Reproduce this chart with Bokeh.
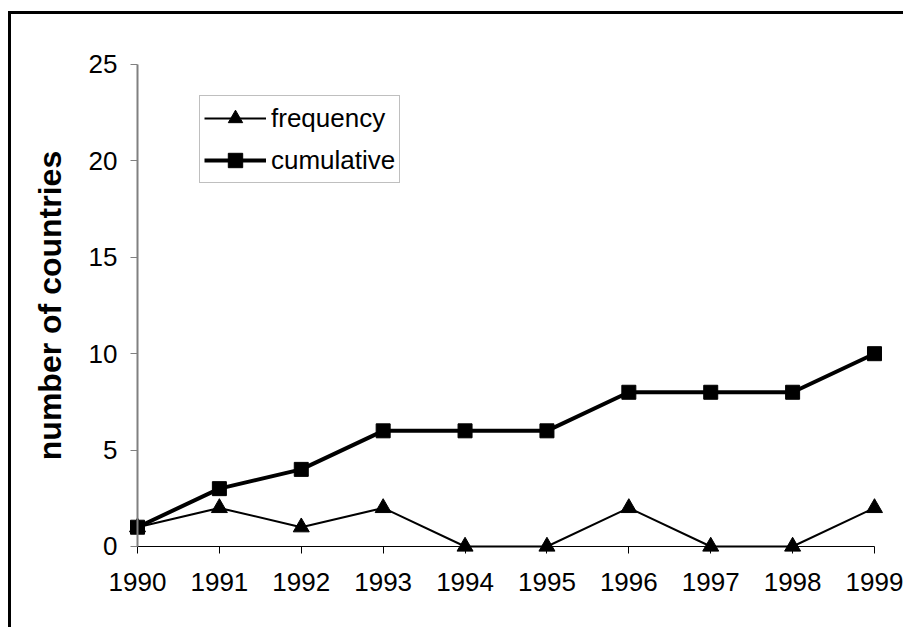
from bokeh.plotting import figure
from bokeh.models import (Range1d, LinearAxis, FixedTicker, Legend, LegendItem)
from bokeh.embed import file_html
from bokeh.resources import INLINE

# ---- data ----
years = [1990, 1991, 1992, 1993, 1994, 1995, 1996, 1997, 1998, 1999]
frequency = [1, 2, 1, 2, 0, 0, 2, 0, 0, 2]
cumulative = [1, 3, 4, 6, 6, 6, 8, 8, 8, 10]
y_ticks = [0, 5, 10, 15, 20, 25]
x_tick_labels = ["1990", "1991", "1992", "1993", "1994", "1995", "1996", "1997", "1998", "1999"]
y_tick_labels = ["0", "5", "10", "15", "20", "25"]
series_names = ["frequency", "cumulative"]
y_title = "number of countries"

FONT = "Liberation Sans"

# frame covers the whole canvas; axes are placed at fixed data locations
p = figure(width=895, height=616, output_backend="svg", toolbar_location=None,
           x_range=Range1d(1988.4613, 1999.3908), y_range=Range1d(-4.357, 27.593),
           x_axis_location=None, y_axis_location=None,
           min_border_left=0, min_border_right=0, min_border_top=0, min_border_bottom=0)
p.styles = {"border-top": "3px solid black", "border-left": "3px solid black",
            "margin-top": "11px", "margin-left": "8px"}
p.outline_line_color = None
p.xgrid.visible = False
p.ygrid.visible = False
p.background_fill_color = "white"
p.border_fill_color = "white"

xaxis = LinearAxis(fixed_location=0, bounds=(1990, 1999),
                   ticker=FixedTicker(ticks=years),
                   major_label_overrides={y: s for y, s in zip(years, x_tick_labels)})
xaxis.axis_line_color = "black"
xaxis.axis_line_width = 1.2
xaxis.major_tick_line_color = "black"
xaxis.major_tick_in = 0
xaxis.major_tick_out = 7
xaxis.minor_tick_line_color = None
xaxis.major_label_text_font = FONT
xaxis.major_label_text_font_size = "26px"
xaxis.major_label_text_color = "black"
xaxis.major_label_standoff = 20
p.add_layout(xaxis, "below")

yaxis = LinearAxis(fixed_location=1990, bounds=(0, 25),
                   ticker=FixedTicker(ticks=y_ticks),
                   major_label_overrides={t: s for t, s in zip(y_ticks, y_tick_labels)})
yaxis.axis_line_color = "#808080"
yaxis.axis_line_width = 2
yaxis.major_tick_line_color = "#808080"
yaxis.major_tick_line_width = 1.2
yaxis.major_tick_in = 0
yaxis.major_tick_out = 7
yaxis.minor_tick_line_color = None
yaxis.major_label_text_font = FONT
yaxis.major_label_text_font_size = "26px"
yaxis.major_label_text_color = "black"
yaxis.major_label_standoff = 13
yaxis.axis_label = y_title
yaxis.axis_label_text_font = FONT
yaxis.axis_label_text_font_style = "bold"
yaxis.axis_label_text_font_size = "32px"
yaxis.axis_label_text_color = "black"
yaxis.axis_label_standoff = 18
p.add_layout(yaxis, "left")

fl = p.line(years, frequency, line_color="black", line_width=2)
fs = p.scatter(years, frequency, marker="triangle", size=16, fill_color="black", line_color="black")
cl = p.line(years, cumulative, line_color="black", line_width=4)
cs = p.scatter(years, cumulative, marker="square", size=14, fill_color="black", line_color="black")

legend = Legend(items=[LegendItem(label=series_names[0], renderers=[fl, fs]),
                       LegendItem(label=series_names[1], renderers=[cl, cs])],
                location=(188, 447), orientation="vertical",
                label_text_font=FONT, label_text_font_size="26px",
                label_text_color="black",
                glyph_width=62, glyph_height=36, label_height=36,
                label_standoff=5, padding=4, spacing=6, margin=0,
                border_line_color="#808080", border_line_width=1.2,
                background_fill_color="white", background_fill_alpha=1)
p.add_layout(legend, "center")

open("out.html", "w").write(file_html(p, INLINE))
